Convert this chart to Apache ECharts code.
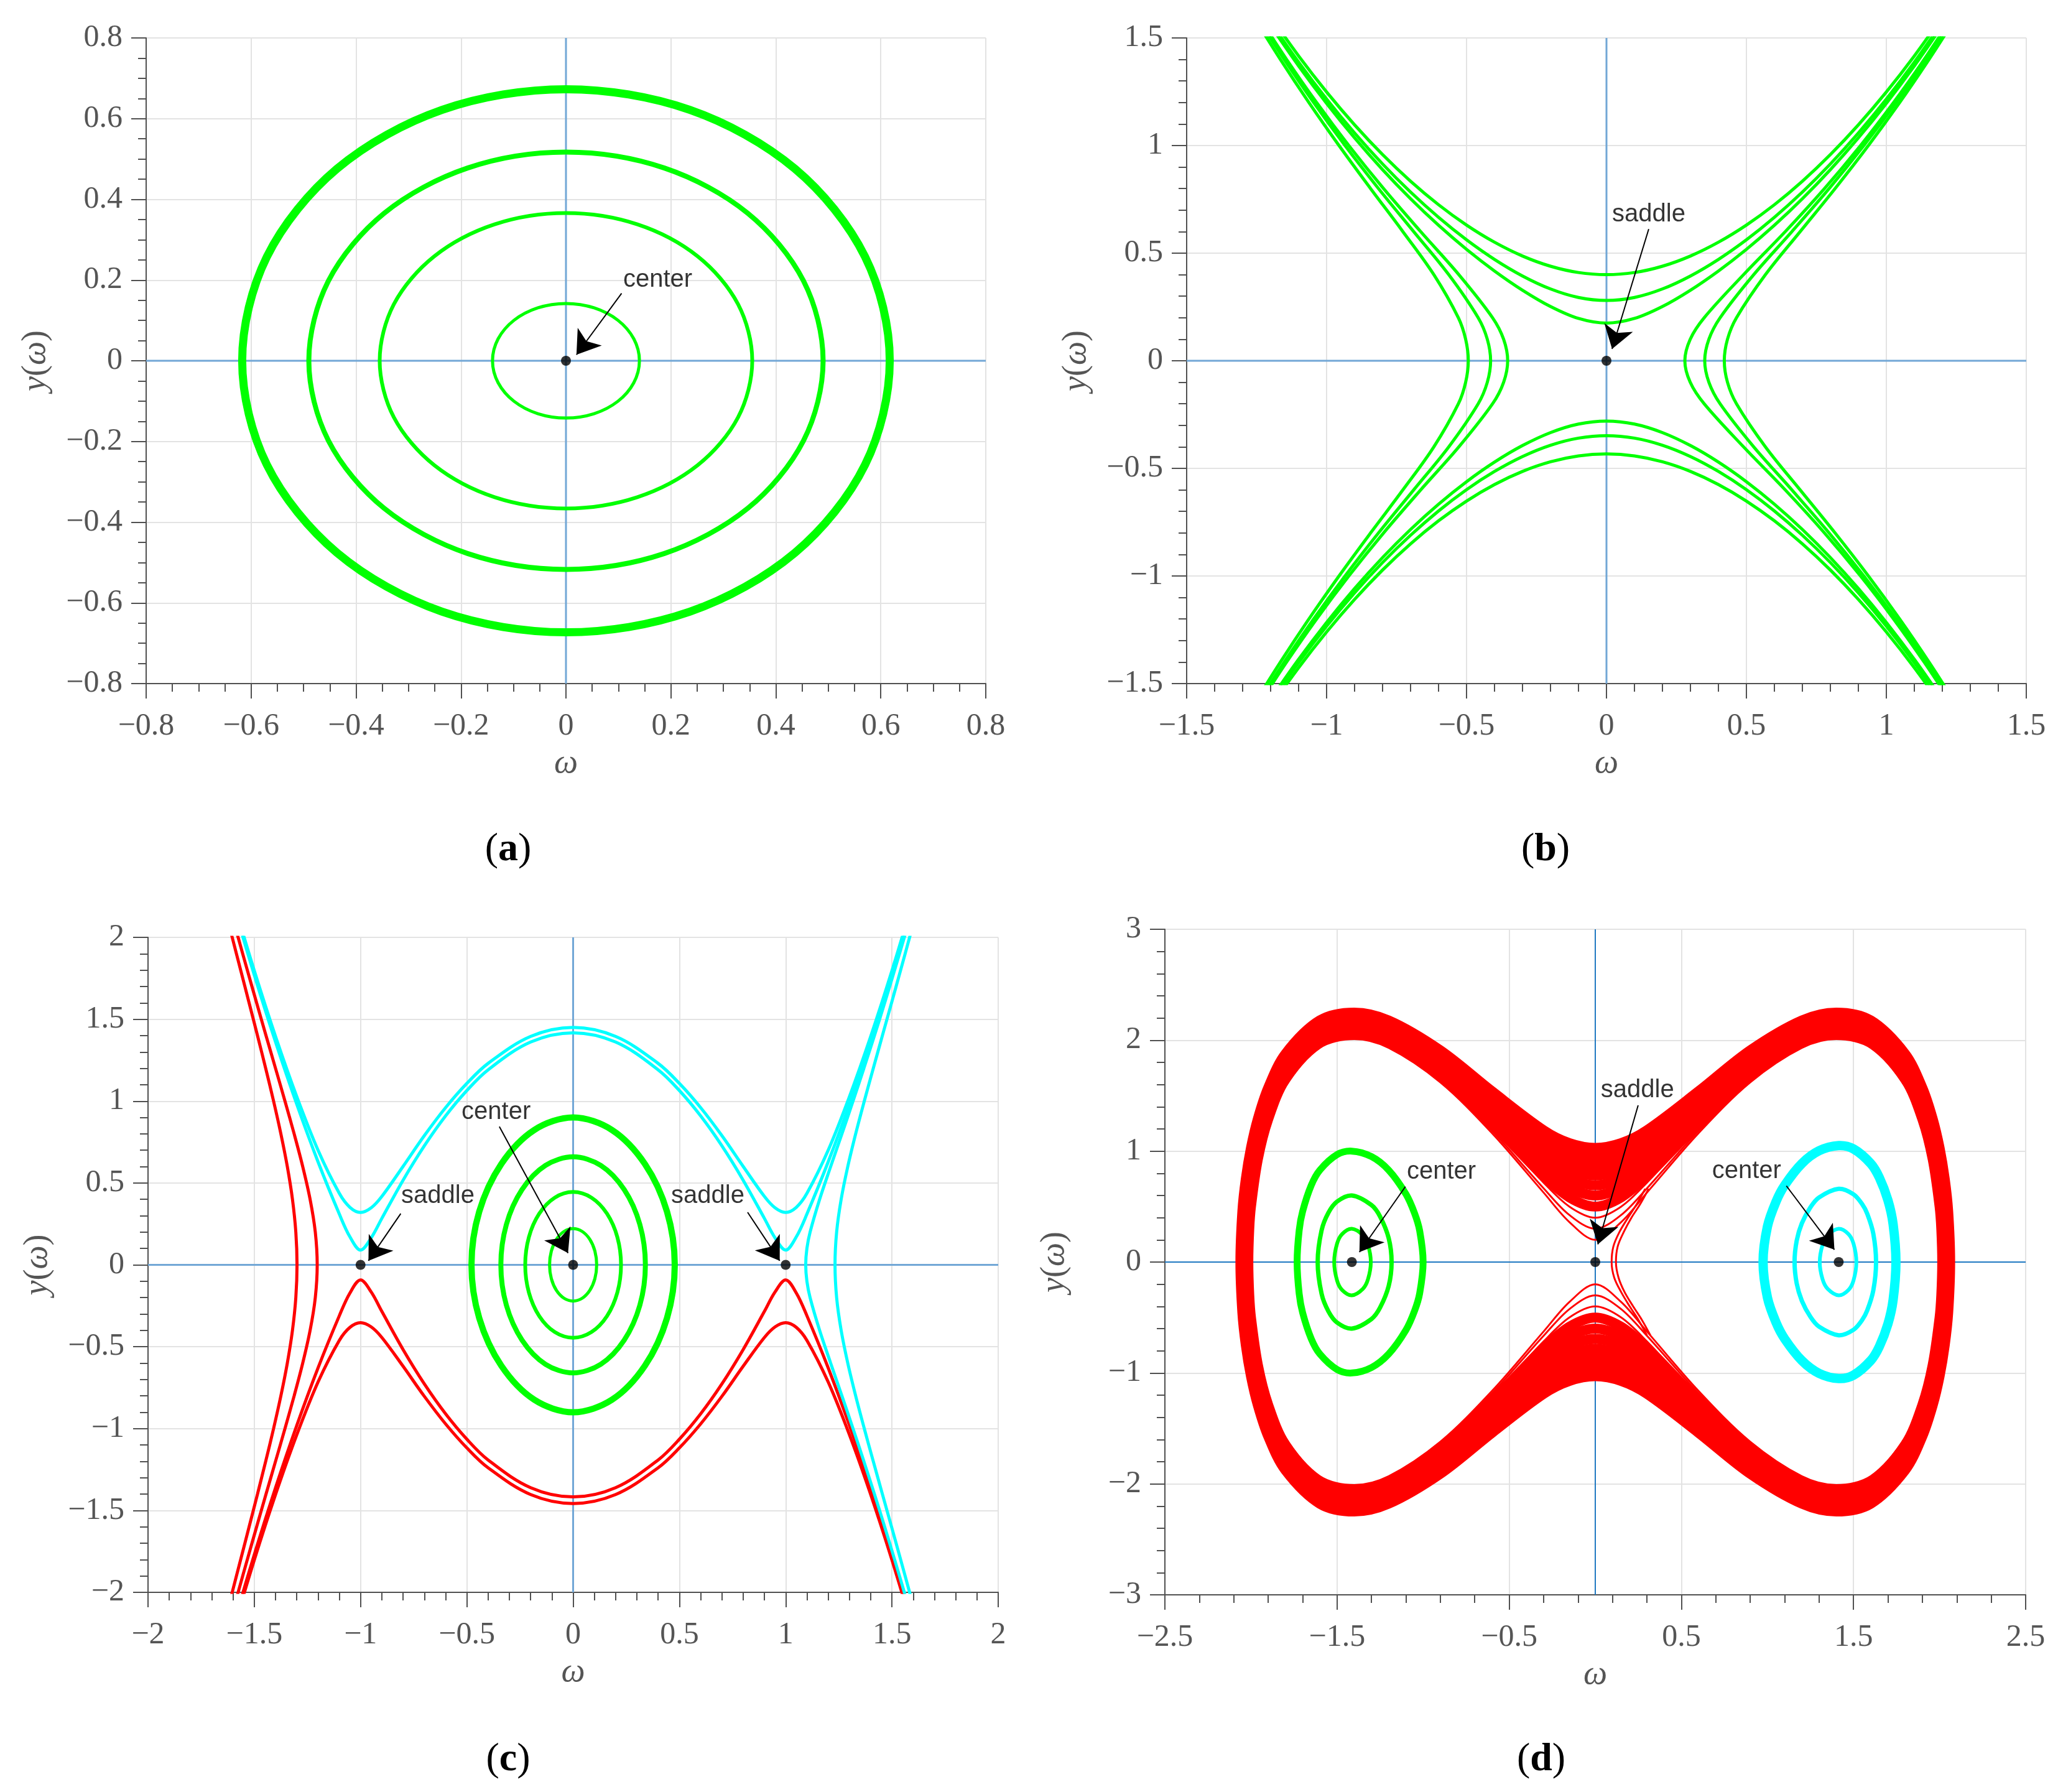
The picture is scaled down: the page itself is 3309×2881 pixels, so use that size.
<!DOCTYPE html>
<html>
<head>
<meta charset="utf-8">
<title>phase portraits</title>
<script src="https://cdn.jsdelivr.net/npm/echarts@6/dist/echarts.min.js"></script>
<style>
html, body { margin: 0; padding: 0; background: #fff; }
#main { width: 3309px; height: 2881px; }
</style>
</head>
<body>
<div id="main"></div>
<script>
// axis ranges [min, max, interval]
var aRange = [-0.8, 0.8, 0.2];
var bRange = [-1.5, 1.5, 0.5];
var cRange = [-2, 2, 0.5];
var dRangeX = [-2.5, 2.5, 1];
var dRangeY = [-3, 3, 1];

// (a) orbits round the center, quarter arcs from the top (0,y) to the right end (w,0)
var aOrbit1 = [[0, 0.142], [0.0536, 0.1312], [0.099, 0.1004], [0.1293, 0.0543], [0.14, 0]];
var aOrbit2 = [[0, 0.366], [0.1359, 0.3381], [0.251, 0.2588], [0.328, 0.1401], [0.355, 0]];
var aOrbit3 = [[0, 0.517], [0.1875, 0.4776], [0.3465, 0.3656], [0.4527, 0.1978], [0.49, 0]];
var aOrbit4 = [[0, 0.673], [0.2361, 0.6218], [0.4363, 0.4759], [0.57, 0.2576], [0.617, 0]];

// (b) saddle: upper / lower branches (w >= 0 half), side branches (y >= 0 half)
var bTop1 = [[0, 0.4], [0.1, 0.41], [0.2, 0.4393], [0.3, 0.4867], [0.4, 0.5508], [0.5, 0.6305], [0.6, 0.7251], [0.7, 0.8343], [0.8, 0.958], [0.9, 1.0962], [1.0, 1.249], [1.1, 1.4165], [1.2, 1.5988]];
var bTop2 = [[0, 0.28], [0.1, 0.294], [0.2, 0.3337], [0.3, 0.394], [0.4, 0.4709], [0.5, 0.562], [0.6, 0.6665], [0.7, 0.7839], [0.8, 0.9144], [0.9, 1.0583], [1.0, 1.2159], [1.1, 1.3874], [1.2, 1.5731]];
var bTop3 = [[0, 0.175], [0.1, 0.1966], [0.2, 0.2521], [0.3, 0.3278], [0.4, 0.4171], [0.5, 0.5178], [0.6, 0.6296], [0.7, 0.7528], [0.8, 0.8879], [0.9, 1.0355], [1.0, 1.1961], [1.1, 1.37], [1.2, 1.5578]];
var bBottom1 = [[0, -0.28], [0.1, -0.294], [0.2, -0.3337], [0.3, -0.394], [0.4, -0.4709], [0.5, -0.562], [0.6, -0.6665], [0.7, -0.7839], [0.8, -0.9144], [0.9, -1.0583], [1.0, -1.2159], [1.1, -1.3874], [1.2, -1.5731]];
var bBottom2 = [[0, -0.348], [0.1, -0.3594], [0.2, -0.3925], [0.3, -0.4449], [0.4, -0.5143], [0.5, -0.5988], [0.6, -0.6978], [0.7, -0.8107], [0.8, -0.9375], [0.9, -1.0783], [1.0, -1.2333], [1.1, -1.4027], [1.2, -1.5866]];
var bBottom3 = [[0, -0.433], [0.1, -0.4422], [0.2, -0.4695], [0.3, -0.5142], [0.4, -0.5752], [0.5, -0.6519], [0.6, -0.7438], [0.7, -0.8506], [0.8, -0.9722], [0.9, -1.1087], [1.0, -1.26], [1.1, -1.4262], [1.2, -1.6074]];
var bLeft1 = [[-0.4937, 0], [-0.5032, 0.1], [-0.5292, 0.2], [-0.6167, 0.4], [-0.7273, 0.6], [-0.8428, 0.8], [-0.9556, 1.0], [-1.0632, 1.2], [-1.165, 1.4], [-1.2613, 1.6]];
var bLeft2 = [[-0.414, 0], [-0.4258, 0.1], [-0.4585, 0.2], [-0.5636, 0.4], [-0.6888, 0.6], [-0.8145, 0.8], [-0.9341, 1.0], [-1.0463, 1.2], [-1.1513, 1.4], [-1.25, 1.6]];
var bLeft3 = [[-0.353, 0], [-0.3675, 0.1], [-0.407, 0.2], [-0.5274, 0.4], [-0.6638, 0.6], [-0.7965, 0.8], [-0.9206, 1.0], [-1.0358, 1.2], [-1.1429, 1.4], [-1.2431, 1.6]];
var bRight1 = [[0.28, 0], [0.2992, 0.1], [0.3491, 0.2], [0.4897, 0.4], [0.6388, 0.6], [0.779, 0.8], [0.9077, 1.0], [1.0259, 1.2], [1.135, 1.4], [1.2366, 1.6]];
var bRight2 = [[0.351, 0], [0.366, 0.1], [0.406, 0.2], [0.526, 0.4], [0.6625, 0.6], [0.7955, 0.8], [0.9195, 1.0], [1.035, 1.2], [1.1422, 1.4], [1.2425, 1.6]];
var bRight3 = [[0.421, 0], [0.4324, 0.1], [0.4646, 0.2], [0.568, 0.4], [0.692, 0.6], [0.8167, 0.8], [0.9358, 1.0], [1.0476, 1.2], [1.1524, 1.4], [1.2509, 1.6]];

// (c) center at 0, saddles at -1 and 1
var cOrbit1 = [[0, 0.9], [0.183, 0.8235], [0.3381, 0.6155], [0.4418, 0.3247], [0.4782, 0]];
var cOrbit2 = [[0, 0.66], [0.1301, 0.607], [0.2404, 0.4595], [0.3141, 0.246], [0.34, 0]];
var cOrbit3 = [[0, 0.445], [0.0863, 0.4102], [0.1594, 0.3126], [0.2082, 0.1685], [0.2254, 0]];
var cOrbit4 = [[0, 0.221], [0.0424, 0.2042], [0.0783, 0.1563], [0.1024, 0.0846], [0.1108, 0]];
var cCyanArch1 = [[0, 1.45], [0.2, 1.3948], [0.4, 1.2303], [0.5, 1.1079], [0.6, 0.96], [0.7, 0.789], [0.8, 0.6013], [0.9, 0.4179], [0.95, 0.3484], [1.0, 0.32], [1.05, 0.3513], [1.1, 0.4366], [1.2, 0.6997], [1.3, 1.027], [1.4, 1.3948], [1.5, 1.7965], [1.6, 2.229]];
var cCyanArch2 = [[0, 1.4171], [0.2, 1.3606], [0.4, 1.1913], [0.5, 1.0645], [0.6, 0.9096], [0.7, 0.7268], [0.8, 0.517], [0.9, 0.2834], [0.95, 0.1646], [1.0, 0.09], [1.05, 0.1706], [1.1, 0.3103], [1.2, 0.6287], [1.3, 0.98], [1.4, 1.3606], [1.5, 1.77], [1.6, 2.208]];
var cRedArch1 = [[0, -1.4576], [0.2, -1.4028], [0.4, -1.2393], [0.5, -1.1179], [0.6, -0.9715], [0.7, -0.803], [0.8, -0.6195], [0.9, -0.4436], [0.95, -0.379], [1.0, -0.353], [1.05, -0.3816], [1.1, -0.4613], [1.2, -0.7154], [1.3, -1.0377], [1.4, -1.4028], [1.5, -1.8027], [1.6, -2.234]];
var cRedArch2 = [[0, -1.4172], [0.2, -1.3607], [0.4, -1.1915], [0.5, -1.0647], [0.6, -0.9098], [0.7, -0.7271], [0.8, -0.5174], [0.9, -0.2841], [0.95, -0.1658], [1.0, -0.0922], [1.05, -0.1718], [1.1, -0.311], [1.2, -0.629], [1.3, -0.9802], [1.4, -1.3607], [1.5, -1.7701], [1.6, -2.2081]];
var cCyanSide1 = [[1.0943, 0], [1.0999, 0.1], [1.1149, 0.2], [1.1597, 0.4], [1.2116, 0.6], [1.2646, 0.8], [1.3169, 1.0], [1.3679, 1.2], [1.4176, 1.4], [1.4658, 1.6], [1.5126, 1.8], [1.5582, 2.0], [1.5915, 2.15]];
var cCyanSide2 = [[1.2322, 0], [1.2398, 0.2], [1.2611, 0.4], [1.2922, 0.6], [1.3293, 0.8], [1.3699, 1.0], [1.4122, 1.2], [1.4551, 1.4], [1.4981, 1.6], [1.5409, 1.8], [1.5831, 2.0], [1.6144, 2.15]];
var cRedSide1 = [[-1.299, 0], [-1.3046, 0.2], [-1.3204, 0.4], [-1.3446, 0.6], [-1.3749, 0.8], [-1.4093, 1.0], [-1.4464, 1.2], [-1.485, 1.4], [-1.5244, 1.6], [-1.5642, 1.8], [-1.6039, 2.0], [-1.6336, 2.15]];
var cRedSide2 = [[-1.204, 0], [-1.213, 0.2], [-1.2374, 0.4], [-1.2721, 0.6], [-1.3125, 0.8], [-1.3557, 1.0], [-1.4001, 1.2], [-1.4448, 1.4], [-1.4891, 1.6], [-1.5329, 1.8], [-1.5761, 2.0], [-1.6079, 2.15]];

// (d) saddle at 0, centers at -1.414 and 1.414; red band quarter arcs (top -> right end)
var dBand1 = [[0, 0.5], [0.15, 0.5827], [0.3, 0.7758], [0.6, 1.2492], [0.9, 1.6834], [1.2, 1.984], [1.4, 2.0612], [1.6, 1.984], [1.8, 1.6469], [1.9, 1.2876], [1.96, 0.9266], [2.0, 0.5], [2.01, 0.2966], [2.0153, 0]];
var dBand2 = [[0, 0.6], [0.15, 0.6705], [0.3, 0.8437], [0.6, 1.2924], [0.9, 1.7158], [1.2, 2.0116], [1.4, 2.0877], [1.6, 2.0116], [1.8, 1.68], [1.9, 1.3296], [1.96, 0.9841], [2.0, 0.6], [2.015, 0.3399], [2.0219, 0]];
var dBand3 = [[0, 0.6928], [0.15, 0.7547], [0.3, 0.9121], [0.6, 1.3381], [0.9, 1.7504], [1.2, 2.0412], [1.4, 2.1162], [1.6, 2.0412], [1.8, 1.7153], [1.9, 1.374], [1.96, 1.0433], [2.0, 0.6928], [2.02, 0.3897], [2.0289, 0]];
var dBand4 = [[0, 0.781], [0.15, 0.8364], [0.3, 0.9808], [0.6, 1.3858], [0.9, 1.7872], [1.2, 2.0728], [1.4, 2.1467], [1.6, 2.0728], [1.8, 1.7528], [1.9, 1.4205], [1.96, 1.1039], [2.0, 0.781], [2.025, 0.4445], [2.0365, 0]];
var dBand5 = [[0, 0.866], [0.15, 0.9162], [0.3, 1.0497], [0.6, 1.4354], [0.9, 1.8259], [1.2, 2.1063], [1.4, 2.1791], [1.6, 2.1063], [1.8, 1.7923], [1.9, 1.469], [1.96, 1.1655], [2.0, 0.866], [2.015, 0.711], [2.03, 0.5015], [2.0444, 0]];
var dBand6 = [[0, 0.9487], [0.15, 0.9947], [0.3, 1.1189], [0.6, 1.4867], [0.9, 1.8665], [1.2, 2.1416], [1.4, 2.2132], [1.6, 2.1416], [1.8, 1.8337], [1.9, 1.5192], [1.96, 1.2282], [2.0, 0.9487], [2.02, 0.756], [2.04, 0.477], [2.0527, 0]];
var dBand7 = [[0, 1.0296], [0.15, 1.0721], [0.3, 1.1882], [0.6, 1.5396], [0.9, 1.9089], [1.2, 2.1786], [1.4, 2.2491], [1.6, 2.1786], [1.8, 1.8768], [1.9, 1.571], [1.96, 1.2917], [2.0, 1.0296], [2.03, 0.749], [2.05, 0.457], [2.0614, 0]];
var dThin1 = [[0, 0.2], [0.15, 0.36], [0.3, 0.626], [0.6, 1.1621], [0.9, 1.6198], [1.2, 1.9304], [1.4, 2.0096], [1.6, 1.9304], [1.8, 1.5819], [1.9, 1.2033], [1.96, 0.8053], [2.0, 0.2], [2.0025, 0]];
var dThin2 = [[0, 0.3], [0.15, 0.4237], [0.3, 0.6648], [0.6, 1.1834], [0.9, 1.6352], [1.2, 1.9433], [1.4, 2.022], [1.6, 1.9433], [1.8, 1.5976], [1.9, 1.2239], [1.96, 0.8358], [2.0, 0.3], [2.0056, 0]];
var dThin3 = [[0, 0.4], [0.15, 0.4995], [0.3, 0.7155], [0.6, 1.2126], [0.9, 1.6565], [1.2, 1.9612], [1.4, 2.0392], [1.6, 1.9612], [1.8, 1.6194], [1.9, 1.2522], [1.96, 0.8766], [2.0, 0.4], [2.005, 0.2818], [2.0099, 0]];
// thin traces hugging the saddle on its right side
var dSaddleTrace1 = [[0.29, 0.66], [0.24, 0.52], [0.19, 0.4], [0.14, 0.27], [0.105, 0.14], [0.095, 0], [0.11, -0.14], [0.15, -0.27], [0.2, -0.4], [0.25, -0.52], [0.3, -0.66]];
var dSaddleTrace2 = [[0.31, 0.66], [0.26, 0.52], [0.21, 0.4], [0.165, 0.27], [0.13, 0.14], [0.12, 0], [0.135, -0.14], [0.17, -0.27], [0.22, -0.4], [0.27, -0.52], [0.32, -0.66]];
// spirals round the two centers, upper halves from left end to right end
var dGreen1 = [[-1.732, 0], [-1.72, 0.2855], [-1.7, 0.456], [-1.65, 0.6914], [-1.6, 0.8285], [-1.5, 0.9682], [-1.414, 1.0], [-1.3, 0.9507], [-1.2, 0.8285], [-1.1, 0.6131], [-1.05, 0.441], [-1.02, 0.2814], [-1.0, 0]];
var dGreen2 = [[-1.6125, 0], [-1.59, 0.2848], [-1.55, 0.445], [-1.5, 0.5454], [-1.414, 0.6], [-1.3, 0.5137], [-1.25, 0.4106], [-1.2, 0.2154], [-1.1832, 0]];
var dGreen3 = [[-1.5166, 0], [-1.5, 0.1658], [-1.47, 0.2532], [-1.414, 0.3], [-1.35, 0.2419], [-1.32, 0.1537], [-1.3038, 0]];
var dCyan1 = [[0.9747, 0], [1.0, 0.3202], [1.05, 0.545], [1.1, 0.6917], [1.2, 0.8882], [1.3, 1.0032], [1.414, 1.05], [1.5, 1.0198], [1.6, 0.8882], [1.65, 0.7619], [1.7, 0.5571], [1.73, 0.3416], [1.7464, 0]];
var dCyan2 = [[1.1576, 0], [1.17, 0.1931], [1.2, 0.3493], [1.25, 0.4942], [1.3, 0.5827], [1.414, 0.66], [1.5, 0.6108], [1.55, 0.523], [1.58, 0.435], [1.615, 0.2563], [1.631, 0]];
var dCyan3 = [[1.3038, 0], [1.32, 0.1537], [1.35, 0.2419], [1.414, 0.3], [1.47, 0.2532], [1.5, 0.1658], [1.5166, 0]];

// equilibria, notes [w, y, text] and arrows [from, to]
var aPoints = [[0, 0]];
var aNotes = [[0.109, 0.2, 'center']];
var aArrows = [[[0.106, 0.167], [0.02, 0.015]]];
var bPoints = [[0, 0]];
var bNotes = [[0.02, 0.679, 'saddle']];
var bArrows = [[[0.151, 0.612], [0.02, 0.055]]];
var cPoints = [[-1, 0], [0, 0], [1, 0]];
var cNotes = [[-0.525, 0.933, 'center'], [-0.809, 0.418, 'saddle'], [0.461, 0.418, 'saddle']];
var cArrows = [[[-0.347, 0.844], [-0.024, 0.072]], [[-0.811, 0.313], [-0.963, 0.025]], [[0.821, 0.321], [0.972, 0.025]]];
var dPoints = [[-1.414, 0], [0, 0], [1.414, 0]];
var dNotes = [[-1.095, 0.815, 'center'], [0.032, 1.55, 'saddle'], [0.678, 0.818, 'center']];
var dArrows = [[[-1.103, 0.68], [-1.37, 0.09]], [[0.249, 1.413], [0.015, 0.16]], [[1.11, 0.687], [1.389, 0.112]]];

var panelTags = ['a', 'b', 'c', 'd'];

var GREEN = '#00ff00', CYAN = '#00ffff', RED = '#ff0000';
var FONT_SERIF = "'Liberation Serif', 'Times New Roman', serif";
var FONT_SANS = "'Liberation Sans', Arial, sans-serif";
var AXIS_GREY = '#505050';
var LABEL_GREY = '#555555';

// quarter arc (top -> right end) to a closed ring of points
function loopFromQuarter(q) {
	var pts = q.slice(), i;
	for(i = q.length - 2; i >= 0; i--) pts.push([q[i][0], -q[i][1]]);
	for(i = 1; i < q.length; i++) pts.push([-q[i][0], -q[i][1]]);
	for(i = q.length - 2; i >= 1; i--) pts.push([-q[i][0], q[i][1]]);
	return pts;
}

// upper half (left end -> right end) to a closed ring of points
function loopFromUpper(h) {
	var pts = h.slice();
	for(var i = h.length - 2; i >= 1; i--) pts.push([h[i][0], -h[i][1]]);
	return pts;
}

function mirrorX(h) {
	return h.slice(1).reverse().map(function(p) { return [-p[0], p[1]]; }).concat(h);
}

function mirrorY(h) {
	return h.slice(1).reverse().map(function(p) { return [p[0], -p[1]]; }).concat(h);
}

function fmtTick(v) {
	var s = String(Math.abs(Math.round(v * 100) / 100));
	return v < -1e-9 ? '\u2212' + s : s;
}

var series = [];

// open curve
function addCurve(gi, pts, color, width, z) {
	series.push({
		type: 'line',
		xAxisIndex: gi,
		yAxisIndex: gi,
		data: pts,
		symbol: 'none',
		smooth: 0.35,
		silent: true,
		clip: true,
		z: z || 3,
		lineStyle: { color: color, width: width },
		emphasis: { disabled: true }
	});
}

// closed orbit, drawn as a smooth closed polygon through the axis scales
function addLoop(gi, pts, color, width) {
	series.push({
		type: 'custom',
		coordinateSystem: 'cartesian2d',
		xAxisIndex: gi,
		yAxisIndex: gi,
		data: [[0, 0]],
		silent: true,
		clip: true,
		z: 3,
		renderItem: function(params, api) {
			return {
				type: 'polygon',
				shape: { points: pts.map(function(p) { return api.coord(p); }), smooth: 0.33 },
				style: { fill: 'none', stroke: color, lineWidth: width }
			};
		}
	});
}

function addZeroLines(gi, xr, yr, color, width) {
	addCurve(gi, [[xr[0], 0], [xr[1], 0]], color, width, 2);
	addCurve(gi, [[0, yr[0]], [0, yr[1]]], color, width, 2);
}

function addMarks(gi, points, notes, arrows) {
	series.push({
		type: 'scatter', xAxisIndex: gi, yAxisIndex: gi,
		data: points, symbolSize: 16, silent: true, z: 10,
		itemStyle: { color: '#000' }
	});
	series.push({
		type: 'scatter', xAxisIndex: gi, yAxisIndex: gi,
		data: notes, symbolSize: 1, silent: true, z: 11,
		itemStyle: { color: 'rgba(0,0,0,0)' },
		label: {
			show: true, position: 'inside', align: 'left', verticalAlign: 'middle',
			formatter: function(p) { return p.data[2]; },
			fontFamily: FONT_SANS, fontSize: 40, color: '#000'
		},
		markLine: {
			silent: true,
			animation: false,
			symbol: ['none', 'arrow'],
			symbolSize: 36,
			label: { show: false },
			itemStyle: { color: '#000' },
			lineStyle: { color: '#000', width: 2, type: 'solid' },
			data: arrows.map(function(a) { return [{ coord: a[0] }, { coord: a[1] }]; })
		}
	});
}

function makeAxis(isX, gi, r, minorSplit) {
	var ax = {
		type: 'value',
		gridIndex: gi,
		min: r[0],
		max: r[1],
		interval: r[2],
		axisLine: { show: true, onZero: false, lineStyle: { color: AXIS_GREY, width: 2 } },
		axisTick: { show: true, length: 24, lineStyle: { color: AXIS_GREY, width: 2 } },
		minorTick: { show: true, splitNumber: minorSplit, length: 13, lineStyle: { color: AXIS_GREY, width: 2 } },
		splitLine: { show: true, lineStyle: { color: '#e3e3e3', width: 2 } },
		minorSplitLine: { show: false },
		axisLabel: {
			margin: isX ? 44 : 38,
			fontFamily: FONT_SERIF,
			fontSize: 50,
			color: LABEL_GREY,
			formatter: fmtTick,
			showMinLabel: true,
			showMaxLabel: true
		},
		nameLocation: 'middle'
	};
	if(isX) {
		ax.name = 'ω';
		ax.nameGap = 102;
		ax.nameTextStyle = { fontFamily: FONT_SERIF, fontStyle: 'italic', fontSize: 54, color: LABEL_GREY };
	} else {
		ax.name = '{i|y}{r|(}{i|ω}{r|)}';
		ax.nameGap = 150;
		ax.nameRotate = 90;
		ax.nameTextStyle = {
			rich: {
				i: { fontFamily: FONT_SERIF, fontStyle: 'italic', fontSize: 54, color: LABEL_GREY },
				r: { fontFamily: FONT_SERIF, fontSize: 54, color: LABEL_GREY }
			}
		};
	}
	return ax;
}

// (a)
addZeroLines(0, aRange, aRange, '#72a7d6', 3);
addLoop(0, loopFromQuarter(aOrbit1), GREEN, 5);
addLoop(0, loopFromQuarter(aOrbit2), GREEN, 6);
addLoop(0, loopFromQuarter(aOrbit3), GREEN, 8);
addLoop(0, loopFromQuarter(aOrbit4), GREEN, 13);
addMarks(0, aPoints, aNotes, aArrows);

// (b)
addZeroLines(1, bRange, bRange, '#72a7d6', 3);
[bTop1, bTop2, bTop3, bBottom1, bBottom2, bBottom3].forEach(function(h) {
	addCurve(1, mirrorX(h), GREEN, 5);
});
[bLeft1, bLeft2, bLeft3, bRight1, bRight2, bRight3].forEach(function(h) {
	addCurve(1, mirrorY(h), GREEN, 5);
});
addMarks(1, bPoints, bNotes, bArrows);

// (c)
addZeroLines(2, cRange, cRange, '#72a7d6', 3);
addCurve(2, mirrorY(cRedSide1), RED, 5);
addCurve(2, mirrorY(cRedSide2), RED, 5);
addCurve(2, mirrorX(cRedArch1), RED, 5);
addCurve(2, mirrorX(cRedArch2), RED, 5);
addCurve(2, mirrorY(cCyanSide1), CYAN, 5);
addCurve(2, mirrorY(cCyanSide2), CYAN, 5);
addCurve(2, mirrorX(cCyanArch1), CYAN, 5);
addCurve(2, mirrorX(cCyanArch2), CYAN, 5);
addLoop(2, loopFromQuarter(cOrbit1), GREEN, 10);
addLoop(2, loopFromQuarter(cOrbit2), GREEN, 8);
addLoop(2, loopFromQuarter(cOrbit3), GREEN, 6);
addLoop(2, loopFromQuarter(cOrbit4), GREEN, 5);
addMarks(2, cPoints, cNotes, cArrows);

// (d)
addZeroLines(3, dRangeX, dRangeY, '#1f78c1', 2);
[dThin1, dThin2, dThin3].forEach(function(q) {
	addLoop(3, loopFromQuarter(q), RED, 3);
});
addCurve(3, dSaddleTrace1, RED, 3);
addCurve(3, dSaddleTrace2, RED, 3);
[dBand1, dBand2, dBand3, dBand4, dBand5, dBand6, dBand7].forEach(function(q) {
	addLoop(3, loopFromQuarter(q), RED, 16);
});
addLoop(3, loopFromUpper(dGreen1), GREEN, 11);
addLoop(3, loopFromUpper(dGreen2), GREEN, 7);
addLoop(3, loopFromUpper(dGreen3), GREEN, 6);
addLoop(3, loopFromUpper(dCyan1), CYAN, 15);
addLoop(3, loopFromUpper(dCyan2), CYAN, 7);
addLoop(3, loopFromUpper(dCyan3), CYAN, 6);
addMarks(3, dPoints, dNotes, dArrows);

var tagPos = [[812, 1361], [2480, 1361], [812, 2824], [2473, 2824]];
var titles = panelTags.map(function(t, i) {
	return {
		text: '{p|(}{b|' + t + '}{p|)}',
		left: tagPos[i][0],
		top: tagPos[i][1],
		textAlign: 'center',
		textVerticalAlign: 'middle',
		textStyle: {
			fontWeight: 'normal',
			rich: {
				p: { fontFamily: FONT_SERIF, fontSize: 64, fontWeight: 'normal', color: '#000' },
				b: { fontFamily: FONT_SERIF, fontSize: 64, fontWeight: 'bold', color: '#000' }
			}
		}
	};
});

var chart = echarts.init(document.getElementById('main'), null, { renderer: 'canvas' });
chart.setOption({
	backgroundColor: '#fff',
	animation: false,
	title: titles,
	grid: [
		{ left: 235, top: 61, width: 1350, height: 1038, containLabel: false, outerBoundsMode: 'none' },
		{ left: 1908, top: 61, width: 1350, height: 1038, containLabel: false, outerBoundsMode: 'none' },
		{ left: 238, top: 1507, width: 1367, height: 1053, containLabel: false, outerBoundsMode: 'none' },
		{ left: 1873, top: 1494, width: 1384, height: 1070, containLabel: false, outerBoundsMode: 'none' }
	],
	xAxis: [
		makeAxis(true, 0, aRange, 4),
		makeAxis(true, 1, bRange, 5),
		makeAxis(true, 2, cRange, 5),
		makeAxis(true, 3, dRangeX, 5)
	],
	yAxis: [
		makeAxis(false, 0, aRange, 4),
		makeAxis(false, 1, bRange, 5),
		makeAxis(false, 2, cRange, 5),
		makeAxis(false, 3, dRangeY, 5)
	],
	series: series
});
</script>
</body>
</html>
